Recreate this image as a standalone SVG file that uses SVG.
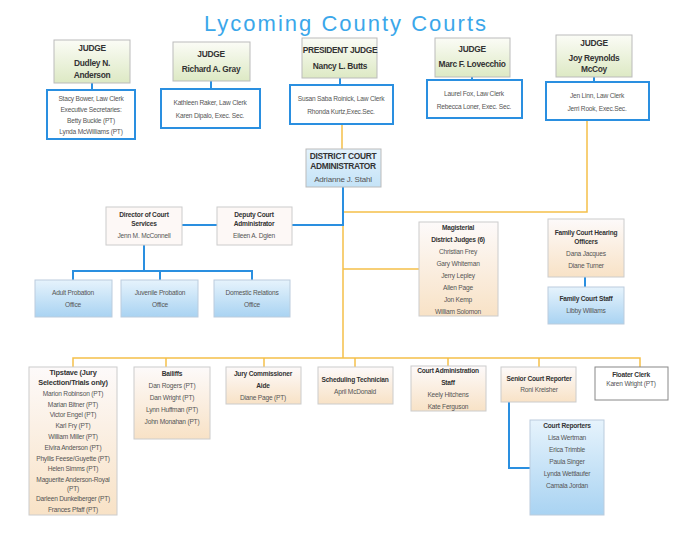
<svg xmlns="http://www.w3.org/2000/svg" width="700" height="541" viewBox="0 0 700 541">
<defs>
<linearGradient id="gG" x1="0" y1="0" x2="0" y2="1"><stop offset="0" stop-color="#fbfcf6"/><stop offset="1" stop-color="#dde9c4"/></linearGradient>
<linearGradient id="gB" x1="0" y1="0" x2="0" y2="1"><stop offset="0" stop-color="#e6f3fc"/><stop offset="1" stop-color="#a9d3f2"/></linearGradient>
<linearGradient id="gL" x1="0" y1="0" x2="0" y2="1"><stop offset="0" stop-color="#e3f2fc"/><stop offset="1" stop-color="#c4e3f7"/></linearGradient>
<linearGradient id="gT" x1="0" y1="0" x2="0" y2="1"><stop offset="0" stop-color="#fdfafa"/><stop offset="1" stop-color="#f8e2c6"/></linearGradient>
</defs>
<style>
text{font-family:"Liberation Sans",Arial,sans-serif;fill:#555;text-anchor:middle;font-size:6.6px;letter-spacing:-0.2px}
.b{font-weight:bold;fill:#333}
.h{font-size:8.4px;font-weight:bold;fill:#333;letter-spacing:-0.3px}
.jb{fill:url(#gG);stroke:#bbb;stroke-width:1}
.sb{fill:#fff;stroke:#2a8fe0;stroke-width:2}
.tb{fill:url(#gT);stroke:#ccc;stroke-width:1}
.bb{fill:url(#gB);stroke:#bcd;stroke-width:1}
.bl{stroke:#2a8fe0;stroke-width:2;fill:none}
.or{stroke:#f5c04a;stroke-width:1.5;fill:none}
</style>
<rect width="700" height="541" fill="#fff"/>
<text x="346" y="31" style="font-size:22px;fill:#3ba7ea;letter-spacing:2px">Lycoming County Courts</text>
<g id="connectors">
<path class="bl" d="M92 83V90M211 81V89M340 78V85M472 77V80M594 77V82"/>
<path class="or" d="M342 124V150M587 120V212H343M343 187V358M343 269H419M73 367V358H640V367M166 358V367M264 358V367M355 358V367M448 358V367M539 358V367"/>
<path class="bl" d="M343 187V225H292M217 225H182M144 245V271M73 280V271H252V280M160 271V280M509 402V468H530M585 277V287"/>
</g>
<g id="j1"><rect class="jb" x="54" y="40" width="76" height="43"/><text class="h" x="92" y="51">JUDGE</text><text class="h" x="92" y="66">Dudley N.</text><text class="h" x="92" y="78">Anderson</text></g>
<g id="s1"><rect class="sb" x="47" y="90" width="88" height="49"/><text x="91" y="101">Stacy Bower, Law Clerk</text><text x="91" y="112">Executive Secretaries:</text><text x="91" y="123">Betty Buckle (PT)</text><text x="91" y="134">Lynda McWilliams (PT)</text></g>
<g id="j2"><rect class="jb" x="173" y="42" width="77" height="39"/><text class="h" x="211" y="57">JUDGE</text><text class="h" x="211" y="72">Richard A. Gray</text></g>
<g id="s2"><rect class="sb" x="161" y="89" width="99" height="39"/><text x="210" y="105">Kathleen Raker, Law Clerk</text><text x="210" y="118">Karen Dipalo, Exec. Sec.</text></g>
<g id="j3"><rect class="jb" x="302" y="38" width="75" height="40"/><text class="h" x="340" y="53">PRESIDENT JUDGE</text><text class="h" x="340" y="69">Nancy L. Butts</text></g>
<g id="s3"><rect class="sb" x="290" y="85" width="103" height="39"/><text x="341" y="101">Susan Saba Roinick, Law Clerk</text><text x="341" y="114">Rhonda Kurtz,Exec.Sec.</text></g>
<g id="j4"><rect class="jb" x="435" y="38" width="75" height="39"/><text class="h" x="472" y="52">JUDGE</text><text class="h" x="472" y="67">Marc F. Lovecchio</text></g>
<g id="s4"><rect class="sb" x="427" y="80" width="95" height="38"/><text x="474" y="96">Laurel Fox, Law Clerk</text><text x="474" y="109">Rebecca Loner, Exec. Sec.</text></g>
<g id="j5"><rect class="jb" x="556" y="35" width="76" height="42"/><text class="h" x="594" y="46">JUDGE</text><text class="h" x="594" y="61">Joy Reynolds</text><text class="h" x="594" y="72">McCoy</text></g>
<g id="s5"><rect class="sb" x="546" y="82" width="103" height="38"/><text x="597" y="98">Jen Linn, Law Clerk</text><text x="597" y="111">Jerri Rook, Exec.Sec.</text></g>
<g id="dca"><rect x="306" y="149" width="75" height="38" fill="url(#gL)" stroke="#bbb"/><text class="h" x="343" y="159">DISTRICT COURT</text><text class="h" x="343" y="169">ADMINISTRATOR</text><text x="343" y="182" style="font-size:8px">Adrianne J. Stahl</text></g>
<g id="dir"><rect class="tb" x="106" y="207" width="76" height="38" style="fill:#fdf8f6"/><text class="b" x="144" y="217">Director of Court</text><text class="b" x="144" y="226">Services</text><text x="144" y="238">Jenn M. McConnell</text></g>
<g id="dep"><rect class="tb" x="217" y="207" width="75" height="38" style="fill:#fdf8f6"/><text class="b" x="254" y="217">Deputy Court</text><text class="b" x="254" y="226">Administrator</text><text x="254" y="238">Eileen A. Dgien</text></g>
<g id="adult"><rect class="bb" x="35" y="280" width="77" height="37"/><text x="73" y="295">Adult Probation</text><text x="73" y="307">Office</text></g>
<g id="juv"><rect class="bb" x="121" y="280" width="77" height="37"/><text x="160" y="295">Juvenile Probation</text><text x="160" y="307">Office</text></g>
<g id="dom"><rect class="bb" x="214" y="280" width="76" height="37"/><text x="252" y="295">Domestic Relations</text><text x="252" y="307">Office</text></g>
<g id="mag"><rect class="tb" x="419" y="222" width="79" height="94"/><text class="b" x="458" y="230">Magisterial</text><text class="b" x="458" y="242">District Judges (6)</text><text x="458" y="254">Christian Frey</text><text x="458" y="266">Gary Whiteman</text><text x="458" y="278">Jerry Lepley</text><text x="458" y="290">Allen Page</text><text x="458" y="302">Jon Kemp</text><text x="458" y="314">William Solomon</text></g>
<g id="fcho"><rect class="tb" x="548" y="219" width="76" height="58"/><text class="b" x="586" y="235">Family Court Hearing</text><text class="b" x="586" y="244">Officers</text><text x="586" y="256">Dana Jacques</text><text x="586" y="268">Diane Turner</text></g>
<g id="fcs"><rect class="bb" x="548" y="287" width="76" height="37"/><text class="b" x="586" y="301">Family Court Staff</text><text x="586" y="313">Libby Williams</text></g>
<g id="tip"><rect class="tb" x="29" y="367" width="88" height="148"/><text class="b" x="73" y="375" style="font-size:7.4px">Tipstave (Jury</text><text class="b" x="73" y="385" style="font-size:7.4px">Selection/Trials only)</text><text x="73" y="396">Marion Robinson (PT)</text><text x="73" y="407">Marian Bitner (PT)</text><text x="73" y="417">Victor Engel (PT)</text><text x="73" y="428">Karl Fry (PT)</text><text x="73" y="439">William Miller (PT)</text><text x="73" y="450">Elvira Anderson (PT)</text><text x="73" y="461">Phyllis Feese/Guyette (PT)</text><text x="73" y="471">Helen Simms (PT)</text><text x="73" y="482">Maguerite Anderson-Royal</text><text x="73" y="491">(PT)</text><text x="73" y="501">Darleen Dunkelberger (PT)</text><text x="73" y="512">Frances Pfaff  (PT)</text></g>
<g id="bail"><rect class="tb" x="134" y="367" width="76" height="72"/><text class="b" x="172" y="376">Bailiffs</text><text x="172" y="388">Dan Rogers (PT)</text><text x="172" y="400">Dan Wright (PT)</text><text x="172" y="412">Lynn Huffman (PT)</text><text x="172" y="424">John Monahan (PT)</text></g>
<g id="jury"><rect class="tb" x="226" y="367" width="75" height="37"/><text class="b" x="263" y="376">Jury Commissioner</text><text class="b" x="263" y="388">Aide</text><text x="263" y="400">Diane Page (PT)</text></g>
<g id="sched"><rect class="tb" x="318" y="367" width="75" height="37"/><text class="b" x="355" y="382">Scheduling Technician</text><text x="355" y="394">April McDonald</text></g>
<g id="cas"><rect class="tb" x="411" y="366" width="75" height="45"/><text class="b" x="448" y="373">Court Administration</text><text class="b" x="448" y="385">Staff</text><text x="448" y="397">Keely Hitchens</text><text x="448" y="409">Kate Ferguson</text></g>
<g id="scr"><rect class="tb" x="501" y="367" width="75" height="35"/><text class="b" x="539" y="381">Senior Court Reporter</text><text x="539" y="392">Roni Kreisher</text></g>
<g id="flo"><rect x="595" y="367" width="73" height="33" fill="#fff" stroke="#888"/><text class="b" x="631" y="377">Floater Clerk</text><text x="631" y="386">Karen Wright (PT)</text></g>
<g id="cr"><rect class="bb" x="530" y="420" width="74" height="95"/><text class="b" x="567" y="428">Court Reporters</text><text x="567" y="440">Lisa Wertman</text><text x="567" y="452">Erica Trimble</text><text x="567" y="464">Paula Singer</text><text x="567" y="476">Lynda Wettlaufer</text><text x="567" y="488">Camala Jordan</text></g>
</svg>
